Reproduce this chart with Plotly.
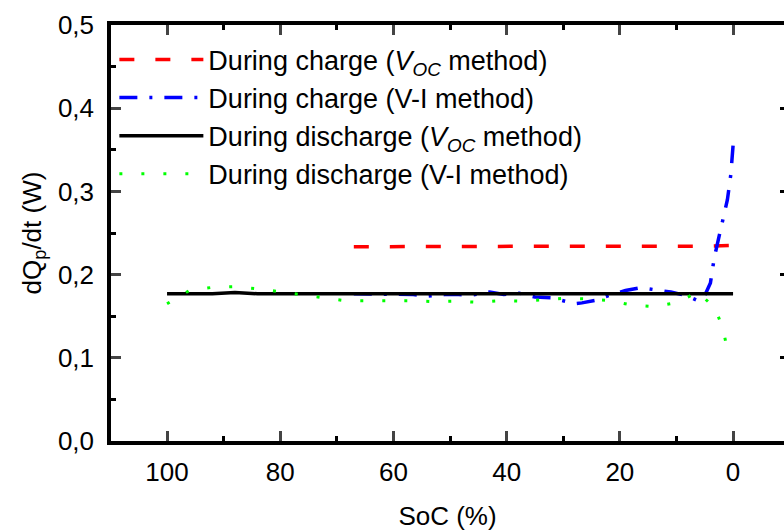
import plotly.graph_objects as go

# ---- data ----
soc_red = [67, 55, 45, 35, 25, 15, 5, 0]
val_red = [0.2335, 0.234, 0.2335, 0.234, 0.234, 0.2338, 0.234, 0.235]

soc_blue = [67, 64, 60, 56.5, 54, 51, 48.5, 46, 43, 40.5, 38, 35, 32, 30, 28, 26.7,
            24.3, 22, 19, 16.3, 14, 11, 8.2, 6, 5, 4, 3.3, 2, 1, 0.4, 0]
val_blue = [0.177, 0.177, 0.177, 0.176, 0.174, 0.176, 0.176, 0.1755, 0.179, 0.176, 0.178, 0.173,
            0.172, 0.168, 0.165, 0.166, 0.169, 0.1747, 0.181, 0.1843, 0.1823, 0.179, 0.1747,
            0.168, 0.175, 0.19, 0.221, 0.259, 0.29, 0.32, 0.355]

soc_black = [100, 92, 88, 84, 60, 40, 28, 20, 0]
val_black = [0.177, 0.177, 0.1785, 0.177, 0.177, 0.177, 0.1775, 0.177, 0.177]

soc_green = [100, 96, 92, 88, 84, 80, 76, 72.5, 68.6, 64.7, 61, 57, 53, 49, 45, 41, 37.5,
             33.5, 29.6, 25.7, 21.8, 18, 14, 10, 6.2, 3.1, 1.7, 0.9]
val_green = [0.165, 0.181, 0.1847, 0.1855, 0.183, 0.1795, 0.176, 0.1727, 0.1687, 0.1687,
             0.1687, 0.1687, 0.1675, 0.168, 0.1667, 0.1687, 0.168, 0.170, 0.1715, 0.1707,
             0.1687, 0.1635, 0.1615, 0.1663, 0.179, 0.159, 0.1326, 0.1058]

names = [
    "During charge (<i>V</i><sub><i>OC</i></sub> method)",
    "During charge (V-I method)",
    "During discharge (<i>V</i><sub><i>OC</i></sub> method)",
    "During discharge (V-I method)",
]

FONT = "Arial, Liberation Sans, sans-serif"
FS = 26
LFS = 27

fig = go.Figure()
fig.add_trace(go.Scatter(x=soc_red, y=val_red, mode="lines", name=names[0], legendgroup="a",
                         line=dict(color="#ff0000", width=3.5, dash="15px,21px")))
fig.add_trace(go.Scatter(x=soc_blue, y=val_blue, mode="lines", name=names[1], legendgroup="b",
                         line=dict(color="#0000ff", width=3.5, dash="18px,12px,3px,12px")))
fig.add_trace(go.Scatter(x=soc_black, y=val_black, mode="lines", name=names[2], legendgroup="c",
                         line=dict(color="#000000", width=3.5)))
fig.add_trace(go.Scatter(x=soc_green, y=val_green, mode="lines", name=names[3], legendgroup="d",
                         line=dict(color="#00ff00", width=3, dash="3px,19px")))
# helper (empty) trace for the right-hand tick axis
fig.add_trace(go.Scatter(x=[None], y=[None], yaxis="y2", showlegend=False, hoverinfo="skip"))

fig.update_layout(
    width=784, height=531,
    margin=dict(l=111, r=0, t=25, b=90),
    paper_bgcolor="white", plot_bgcolor="white",
    separators=",.",
    font=dict(family=FONT, size=FS, color="black"),
    showlegend=True,
    legend=dict(x=0.005, y=0.975, xanchor="left", yanchor="top", bgcolor="rgba(0,0,0,0)",
                font=dict(family=FONT, size=LFS), itemwidth=84, tracegroupgap=4,
                traceorder="normal"),
    xaxis=dict(
        range=[109.9, -9.0], tick0=0, dtick=20, ticks="inside", ticklen=10, tickwidth=3,
        showline=True, linewidth=3.5, linecolor="black", mirror="ticks", showgrid=False,
        zeroline=False, tickfont=dict(size=FS), ticklabelstandoff=5,
        minor=dict(dtick=10, ticks="inside", ticklen=5, tickwidth=3, tickcolor="black"),
        title=dict(text="SoC (%)", font=dict(size=FS), standoff=22),
    ),
    yaxis=dict(
        range=[0, 0.5], tick0=0, dtick=0.1, tickformat=".1f", ticks="inside", ticklen=10,
        tickwidth=3, showline=True, linewidth=3.5, linecolor="black", mirror=False,
        showgrid=False, zeroline=False, tickfont=dict(size=FS), ticklabelstandoff=8,
        minor=dict(dtick=0.05, ticks="inside", ticklen=5, tickwidth=3, tickcolor="black"),
        title=dict(text="dQ<sub>p</sub>/dt (W)", font=dict(size=FS), standoff=10),
    ),
    yaxis2=dict(
        range=[0, 0.5], dtick=0.1, tick0=0, overlaying="y", side="right", anchor="x",
        ticks="inside", ticklen=4, tickwidth=3, tickcolor="black", showticklabels=False,
        showline=False, showgrid=False, zeroline=False,
    ),
)

fig.write_html("out.html")
